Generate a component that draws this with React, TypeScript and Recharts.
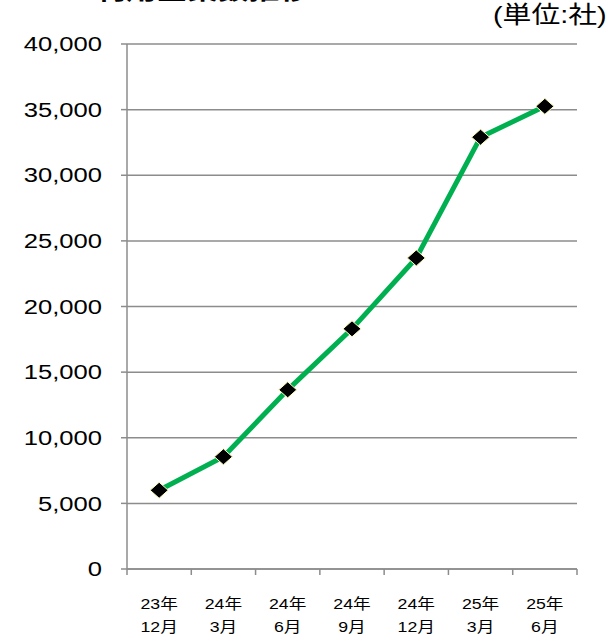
import React from 'react';
import { LineChart, Line, XAxis, YAxis, CartesianGrid } from 'recharts';

const years = ['23年', '24年', '24年', '24年', '24年', '25年', '25年'];
const months = ['12月', '3月', '6月', '9月', '12月', '3月', '6月'];
const companies = [6000, 8550, 13650, 18300, 23700, 32900, 35250];
const yTicks = [0, 5000, 10000, 15000, 20000, 25000, 30000, 35000, 40000];

const data = years.map((y, i) => ({ name: `${y}${months[i]}`, year: y, month: months[i], value: companies[i] }));

const FONT = '"Liberation Sans", Arial, "Noto Sans CJK JP", sans-serif';
const GRID = '#8c8c8c';
const STRETCH = 1.28;
const BAND = 450 / data.length;

const YTick = (props: any) => {
    const { x, y, payload } = props;
    return (
        <text
            transform={`translate(${x},${y}) scale(${STRETCH},1)`}
            textAnchor="end"
            dy="0.36em"
            fontSize={20}
            fontFamily={FONT}
            fill="#000"
        >
            {new Intl.NumberFormat('en-US').format(payload.value)}
        </text>
    );
};

const XTick = (props: any) => {
    const { x, y, index } = props;
    const d = data[index];
    const half = BAND / 2;
    return (
        <g>
            <line x1={x - half} x2={x - half} y1={y - 8} y2={y - 2} stroke={GRID} strokeWidth={1.5} />
            {index === data.length - 1 && (
                <line x1={x + half} x2={x + half} y1={y - 8} y2={y - 2} stroke={GRID} strokeWidth={1.5} />
            )}
            <g transform={`translate(${x},${y}) scale(1.18,1)`}>
                <text textAnchor="middle" y={32} fontSize={15} fontFamily={FONT} fill="#000">{d.year}</text>
                <text textAnchor="middle" y={55} fontSize={15} fontFamily={FONT} fill="#000">{d.month}</text>
            </g>
        </g>
    );
};

const Diamond = (props: any) => {
    const { cx, cy } = props;
    if (cx == null || cy == null) return null;
    const w = 9;
    const h = 8;
    return (
        <polygon
            points={`${cx},${cy - h} ${cx + w},${cy} ${cx},${cy + h} ${cx - w},${cy}`}
            fill="#000"
            stroke="#ffffc0"
            strokeWidth={1}
        />
    );
};

export default function App() {
    return (
        <div style={{ position: 'absolute', left: 0, top: 0, width: 610, height: 636, background: '#fff', overflow: 'hidden' }}>
            <div
                style={{
                    position: 'absolute', left: 95, top: -21, fontSize: 24, fontWeight: 'bold',
                    lineHeight: '24px', fontFamily: FONT, whiteSpace: 'nowrap',
                    transform: `scaleX(${STRETCH})`, transformOrigin: 'left top',
                }}
            >
                利用企業数推移
            </div>
            <div
                style={{
                    position: 'absolute', left: 493, top: 1, fontSize: 24, lineHeight: '28px',
                    fontFamily: FONT, whiteSpace: 'nowrap',
                    transform: 'scaleX(1.2)', transformOrigin: 'left top',
                }}
            >
                (単位:社)
            </div>
            <LineChart width={610} height={636} data={data} margin={{ top: 44, right: 33, bottom: 0, left: 0 }}>
                <CartesianGrid vertical={false} stroke={GRID} strokeWidth={1.5} />
                <XAxis
                    dataKey="name"
                    scale="band"
                    axisLine={{ stroke: GRID, strokeWidth: 1.5 }}
                    tickLine={false}
                    tick={<XTick />}
                    interval={0}
                    height={67}
                />
                <YAxis
                    width={127}
                    domain={[0, 40000]}
                    ticks={yTicks}
                    axisLine={{ stroke: GRID, strokeWidth: 1.5 }}
                    tickLine={{ stroke: GRID, strokeWidth: 1.5 }}
                    tickSize={6}
                    tickMargin={19}
                    tick={<YTick />}
                    interval={0}
                />
                <Line
                    dataKey="value"
                    stroke="#00b050"
                    strokeWidth={5}
                    dot={<Diamond />}
                    activeDot={false}
                    isAnimationActive={false}
                />
            </LineChart>
        </div>
    );
}
